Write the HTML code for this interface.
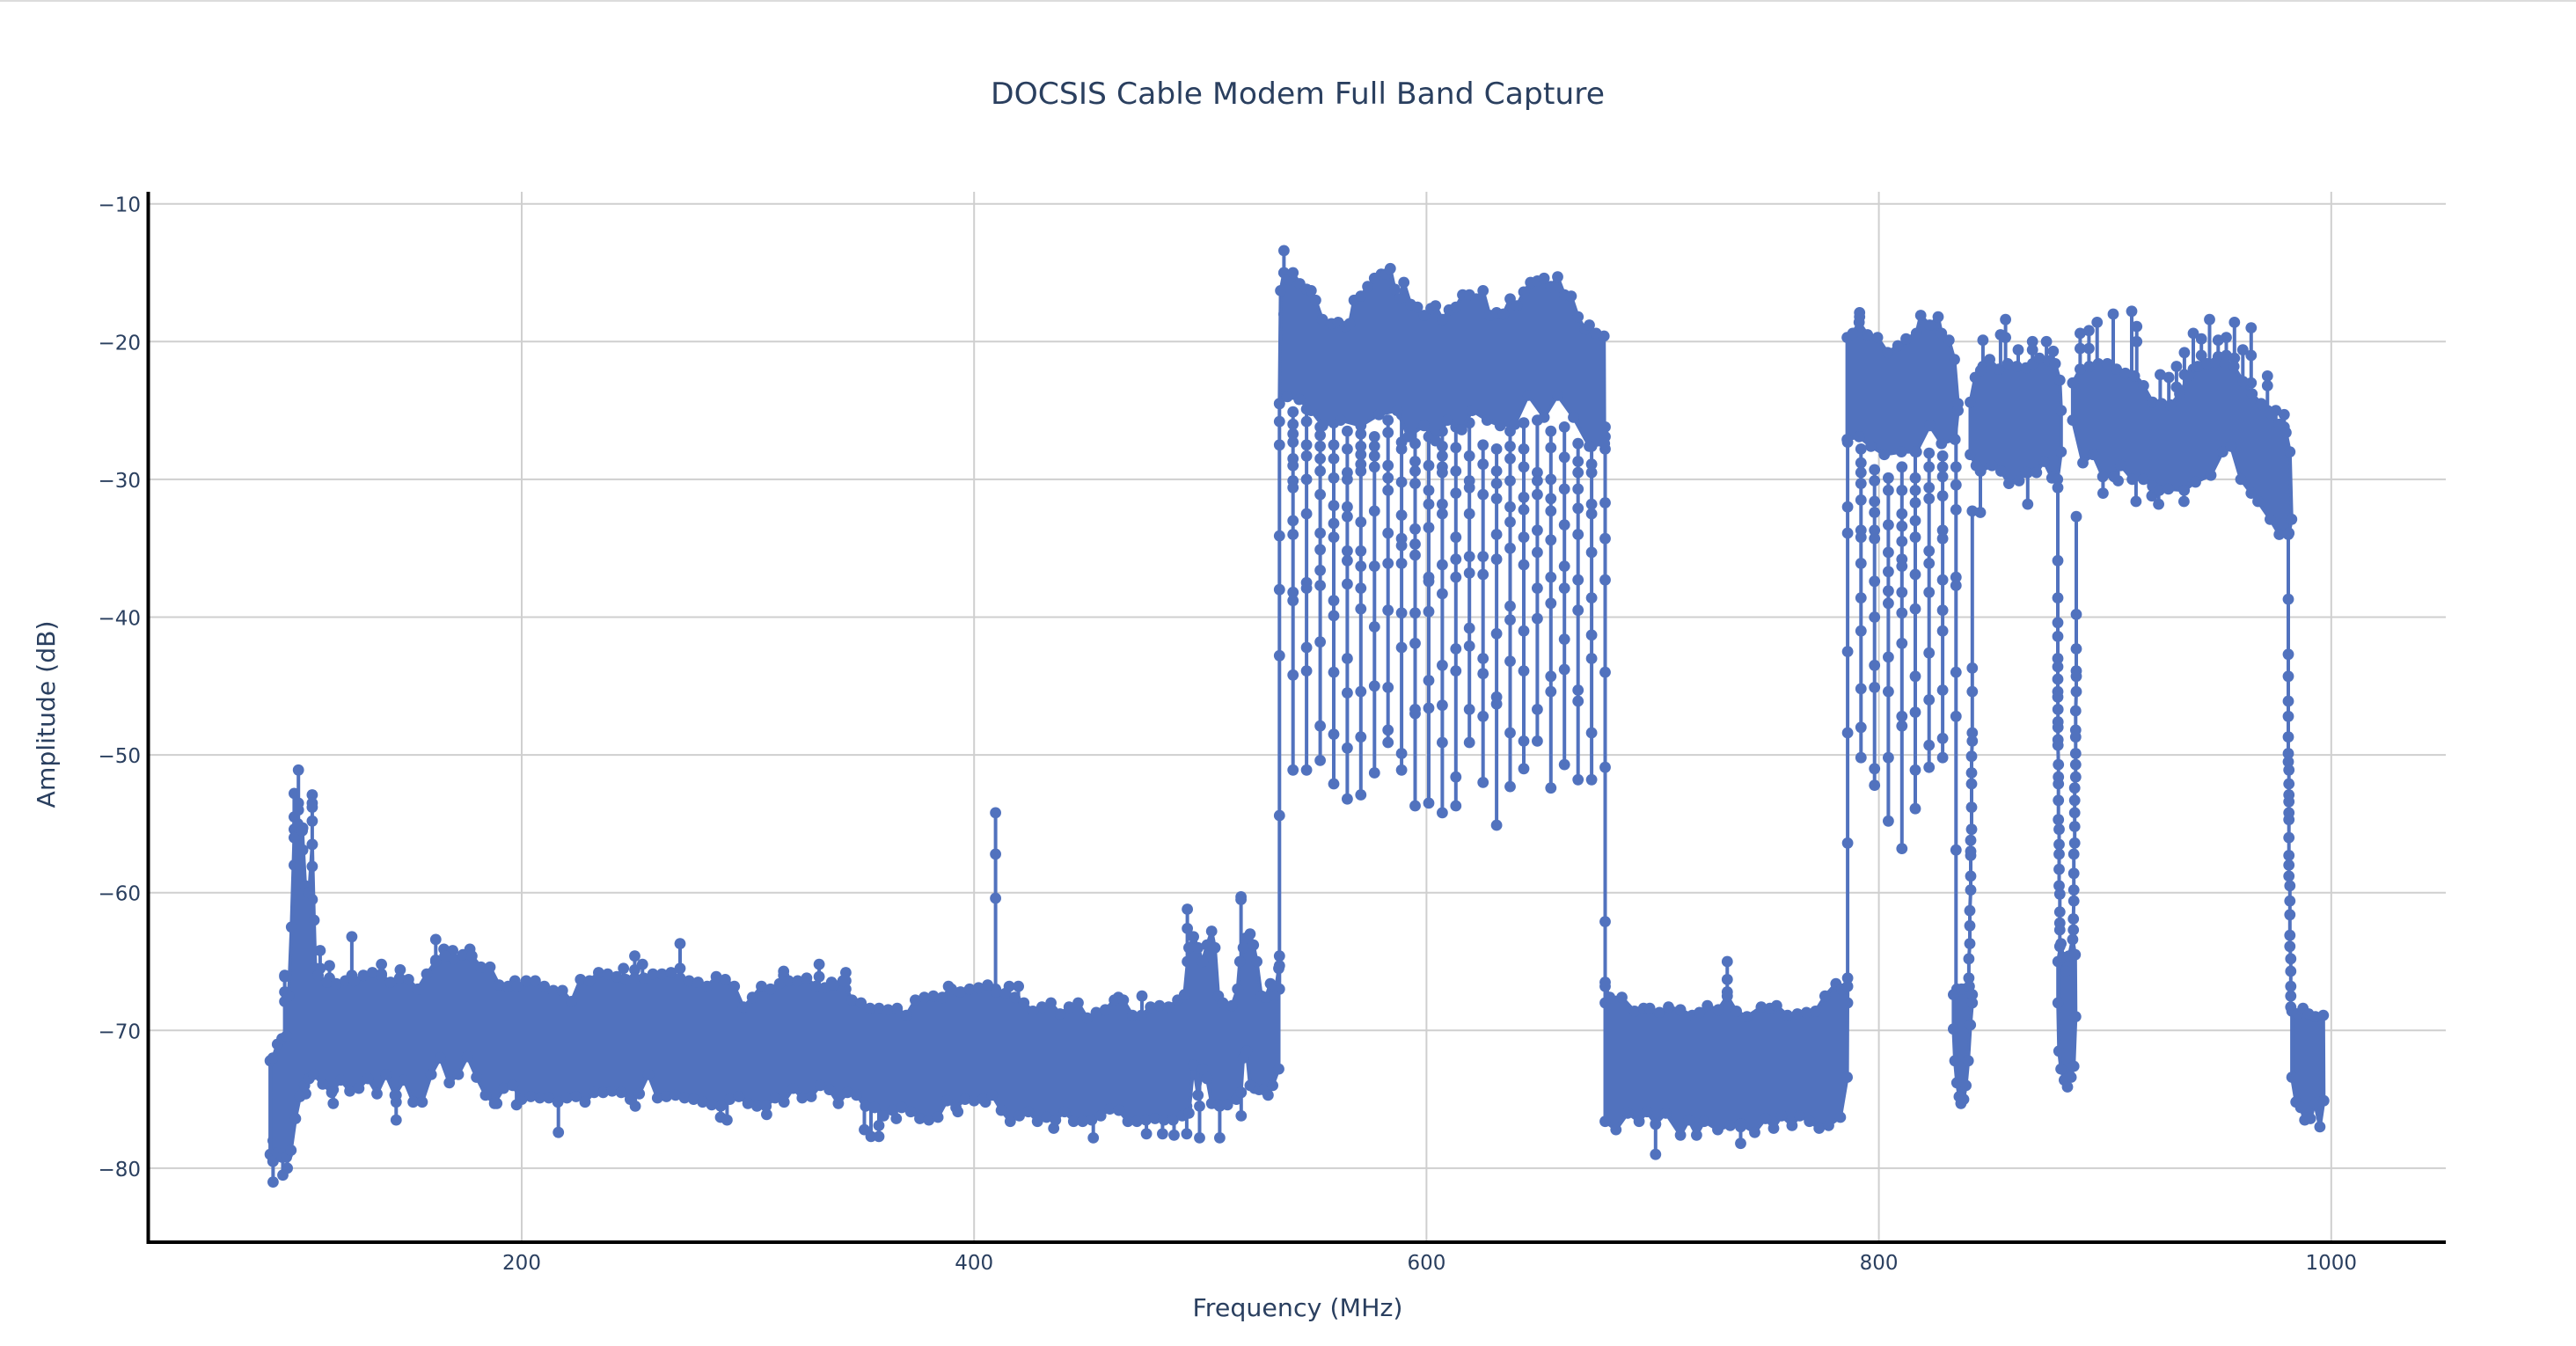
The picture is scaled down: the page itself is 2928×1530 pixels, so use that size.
<!DOCTYPE html>
<html lang="en">
<head>
<meta charset="utf-8">
<title>DOCSIS Cable Modem Full Band Capture</title>
<style>
html,body{margin:0;padding:0;background:#fff;width:2928px;height:1530px;overflow:hidden}
svg{display:block}
text{font-family:"DejaVu Sans","Liberation Sans",sans-serif;fill:#2a3f5f}
</style>
</head>
<body>
<svg id="chart" xmlns="http://www.w3.org/2000/svg" width="2928" height="1530" viewBox="0 0 2928 1530">
  <rect x="0" y="0" width="2928" height="1530" fill="#ffffff"/>
  <rect x="0" y="0" width="2928" height="2" fill="#dcdcdc"/>
  <g id="grid"></g>
  <g id="axes"></g>
  <g id="ticks"></g>
  <g id="marks"></g>
  <text x="1475" y="118" text-anchor="middle" font-size="34" textLength="698" lengthAdjust="spacingAndGlyphs">DOCSIS Cable Modem Full Band Capture</text>
  <text x="1475" y="1496" text-anchor="middle" font-size="28" textLength="239" lengthAdjust="spacingAndGlyphs">Frequency (MHz)</text>
  <text x="62" y="812" text-anchor="middle" font-size="28" transform="rotate(-90 62 812)" textLength="213" lengthAdjust="spacingAndGlyphs">Amplitude (dB)</text>
</svg>
<script>
// ---------- Axis values ----------
const xTickValues = [200, 400, 600, 800, 1000];
const xTickLabels = ["200", "400", "600", "800", "1000"];
const yTickValues = [-10, -20, -30, -40, -50, -60, -70, -80];
const yTickLabels = ["\u221210", "\u221220", "\u221230", "\u221240", "\u221250", "\u221260", "\u221270", "\u221280"];

// ---------- Low band, 88-535 MHz: upper and lower envelope ----------
const lowUpperFreq = [88.8,90,92,94,96,97,98.2,99.4,101,103,104.3,106,107.4,108.2,108.8,110,114,118,122,126,130,134,138,142,146,150,154,158,162,166,170,174,178,182,186,190,194,198,202,206,210,214,218,222,226,230,234,238,242,246,250,254,258,262,266,270,274,278,282,286,290,294,298,302,306,310,314,318,322,326,330,334,338,342,346,350,354,358,362,366,370,374,378,382,386,390,394,398,402,406,410,414,418,422,426,430,434,438,442,446,450,454,458,462,466,470,474,478,482,486,490,493,495,497,499,501,503,505,506.5,508,510,514,516.5,517.5,519,520,522,523.5,525,527,529,531,533,534.7];
const lowUpperAmp = [-72.2,-72,-71,-70.6,-70.4,-67.5,-62.5,-56,-55,-55.5,-59.5,-60,-56.5,-62,-65.5,-66,-66.5,-66.6,-66.4,-66.4,-66,-65.8,-66,-66.5,-66.2,-66.3,-67,-65.9,-65,-64.6,-64.8,-64.5,-64.6,-65.4,-65.4,-66.7,-66.8,-66.8,-66.4,-66.4,-66.8,-67.1,-67.1,-67.9,-66.3,-66.4,-65.8,-65.9,-66.1,-66.3,-66.2,-66.2,-65.9,-65.9,-65.8,-66.2,-66.4,-66.5,-66.8,-66.1,-66.3,-66.8,-68.3,-67.6,-66.8,-67,-66.6,-66.4,-66.4,-66.2,-66.8,-66.9,-66.7,-66.4,-67.8,-68,-68.4,-68.4,-68.5,-68.4,-68.9,-67.8,-67.6,-67.5,-67.6,-67,-67.2,-67,-66.9,-66.7,-67.2,-67.3,-67.6,-68,-68.6,-68.3,-68,-68.8,-68.3,-68,-69.1,-68.7,-68.5,-67.8,-67.8,-68.9,-68.9,-68.3,-68.2,-68.3,-67.8,-67.4,-64,-63.2,-64,-65,-63.8,-62.8,-64,-67.5,-68,-68.2,-67,-65,-64,-63.3,-63,-63.8,-65,-67.5,-67.6,-66.6,-67.5,-65.5];
const lowLowerFreq = [88.8,90,92,94,96,98,100,102,104,106,108,112,116,120,124,128,132,136,140,144,148,152,156,160,164,168,172,176,180,184,188,192,196,200,204,208,212,216,220,224,228,232,236,240,244,248,252,256,260,264,268,272,276,280,284,288,292,296,300,304,308,312,316,320,324,328,332,336,340,344,348,352,356,360,364,368,372,376,380,384,388,392,396,400,404,408,412,416,420,424,428,432,436,440,444,448,452,456,460,464,468,472,476,480,484,488,492,495,497,499,501,503,505,508,512,516,518,519,520.5,522,524,526,528,530,532,534.7];
const lowLowerAmp = [-79,-79.5,-78.9,-79.2,-79.2,-78.7,-76.4,-74.8,-74,-73.5,-73.2,-73.9,-74.5,-73.6,-74.4,-74.2,-73.5,-74.6,-73.2,-74.7,-73.6,-75.2,-75.2,-73.2,-72,-73.8,-73.2,-71.9,-73.4,-74.7,-75.3,-74.2,-74,-75,-74.8,-74.9,-74.9,-75.2,-74.9,-74.8,-75.2,-74.5,-74.5,-74.4,-74.5,-75,-74.6,-73.2,-74.9,-74.8,-74.7,-74.9,-75,-75.2,-75.4,-75.5,-75,-74.8,-75.3,-75.5,-75.5,-74.9,-75.2,-74.2,-74.9,-74.8,-74,-74.3,-75.3,-74.5,-74.7,-75.5,-75.6,-76.2,-75.8,-75.6,-75.9,-76.4,-76.5,-76.3,-75.1,-75.6,-75,-75.1,-75,-74.7,-75.8,-76.6,-76.2,-75.9,-76.6,-76.3,-76.5,-75.9,-76.6,-76.6,-76.5,-76.2,-75.7,-75.8,-76.6,-76.6,-76.5,-76.4,-76.5,-76.5,-76.2,-76,-72.5,-74.7,-72.8,-73.5,-75.3,-75.4,-75.4,-75,-74.5,-72,-71.5,-74,-74.2,-74.3,-74.3,-74.7,-74,-72.8];

// ---------- Carrier block A, 535-680 MHz ----------
const blockAUpperFreq = [535.5,537,539,541,544,547,549,551,554,558,561,564,566,568,571,574,577,580,582,584,586,588,590,593,596,599,602,604,607,610,613,616,619,622,625,628,631,634,637,640,643,646,649,652,655,658,661,664,667,670,672,675,678.5];
const blockAUpperAmp = [-16.3,-15,-15.5,-15,-15.8,-16.2,-16.3,-17,-18.4,-18.7,-18.6,-18.9,-18.7,-17,-16.7,-16,-15.4,-15.1,-15.1,-14.7,-16.2,-16.9,-15.7,-17.3,-17.5,-18.1,-17.6,-17.4,-18.4,-17.7,-17.5,-16.6,-16.6,-16.9,-16.3,-18.1,-17.9,-18,-16.9,-17.4,-16.4,-15.7,-15.6,-15.4,-16,-15.3,-16.6,-16.7,-18.2,-19.1,-18.8,-19.4,-19.6];
const blockALowerFreq = [535,538.5,543.7,549,554.1,562,571,579,587,592,598.9,604,609.3,615.6,620.2,626.8,632.6,639.1,645,652,658,665,672,678.7];
const blockALowerAmp = [-24.5,-24,-24.2,-25,-26.1,-25.7,-26.1,-25.3,-25,-26.9,-26.1,-27.2,-25.7,-26.4,-25,-25.7,-26.1,-26,-23.9,-25.5,-23.9,-25.5,-27.6,-27.4];

// ---------- Guard band, 680-786 MHz ----------
const quietUpperFreq = [679,681,686.4,692,696,698.7,703,707,712.3,717.5,720.7,724.2,729,733,737,741.7,748,751.8,754.8,759.6,764,768,772,776.2,781,783.6,786.2];
const quietUpperAmp = [-66.8,-67.6,-67.6,-68.6,-68.4,-68.4,-68.7,-68.3,-68.5,-68.9,-68.7,-68.2,-68.5,-67.5,-68.6,-69,-68.3,-68.4,-68.2,-68.9,-68.8,-68.7,-68.6,-67.5,-66.6,-67,-66.8];
const quietLowerFreq = [679,683.8,689,694,697.5,701.3,705.8,712.3,716,719.4,722.7,728.8,734.3,738.9,745.1,749.9,753.5,757,761.6,765,769.3,773.6,777.8,783,786];
const quietLowerAmp = [-76.6,-77.2,-76,-76.6,-75.9,-76.8,-76,-77.6,-76.5,-77.6,-76.6,-77.2,-76.9,-76.8,-77.4,-76.4,-77.1,-76.2,-76.9,-76.2,-76.6,-77.1,-76.9,-76.3,-73.4];

// ---------- Carrier block B, 786-835 MHz ----------
const blockBUpperFreq = [786,788.5,791.3,795,799.4,803.9,808.4,812,816.6,818.5,822.5,826.2,827.7,831,833.4,835];
const blockBUpperAmp = [-19.7,-19.4,-18.6,-19.5,-19.7,-20.8,-20.3,-19.8,-19.4,-18.1,-18.8,-18.2,-19.4,-19.9,-21.3,-24.5];
const blockBLowerFreq = [786,791.3,796.5,802.4,810,816.6,822.5,827.7,833.7,835];
const blockBLowerAmp = [-27.1,-26.9,-27.6,-28.2,-28,-28,-26.1,-27.4,-27.1,-25];

// ---------- First notch floor, 833-842 MHz ----------
const notchAUpperFreq = [833,834.5,836.5,838,840,841.3];
const notchAUpperAmp = [-67.4,-67,-67,-67,-66.8,-67.4];
const notchALowerFreq = [833,833.6,834.5,835.5,836.3,837.5,838.5,839.5,840.5,841.3];
const notchALowerAmp = [-69.9,-72.2,-73.8,-74.8,-75.3,-75,-74,-72.2,-69.6,-68];

// ---------- Carrier block C, 840-880 MHz ----------
const blockCUpperFreq = [840.4,842.6,845,849,853,857,861,865,868,871,875,878,880,880.6];
const blockCUpperAmp = [-24.4,-22.6,-22.1,-21.3,-22,-21.6,-21.8,-21.9,-21.6,-21.2,-21.4,-21.6,-22.8,-25];
const blockCLowerFreq = [840.4,843,845,850,854,857.5,862,865,869.7,873,876.5,879,880.6];
const blockCLowerAmp = [-28.2,-29,-29.4,-29,-29.4,-30.3,-30.1,-29.5,-29.5,-28.7,-29.9,-30,-28];

// ---------- Second notch floor, 879-887 MHz ----------
const notchBUpperFreq = [879.2,880.5,881.5,882.7,884,885.7,886.8];
const notchBUpperAmp = [-65,-63.7,-64.7,-65.7,-64.6,-63.4,-64.5];
const notchBLowerFreq = [879.2,879.6,880.5,882,883.4,885,886.2,887];
const notchBLowerAmp = [-68,-71.5,-72.8,-73.6,-74.1,-73.4,-72.6,-69];

// ---------- Carrier block D, 886-982 MHz ----------
const blockDUpperFreq = [885.7,889,893,897,901,905,909,913,917,921,925,929,933,937,941,945,949,953,957,961,965,969,973,977,980,981.7];
const blockDUpperAmp = [-23,-22,-21.8,-21.6,-21.6,-22,-22.3,-22.5,-23.2,-24.4,-24.5,-24.6,-23.8,-22.5,-21.8,-21.6,-21.5,-21.6,-21.8,-22.9,-23.8,-24.5,-25.2,-26,-26.6,-28];
const blockDLowerFreq = [885.7,890.2,894.7,899,904,907,912,917,921,924,928,935,940,946.8,952,955.7,960,964.6,967.6,973,977,981.3,982.5];
const blockDLowerAmp = [-25.7,-28.8,-28.2,-29.8,-29.8,-29,-30,-30,-30.5,-30.8,-30.7,-30.8,-30.2,-29.7,-28,-27.6,-30,-31,-31.6,-32.9,-34,-33.9,-32.9];

// ---------- Top end, 982-997 MHz ----------
const endUpperFreq = [982.6,985,987.5,990,993,996.5];
const endUpperAmp = [-68.6,-68.8,-68.4,-68.8,-69,-68.9];
const endLowerFreq = [982.6,984.4,986.5,988.3,990.8,992.8,995,996.7];
const endLowerAmp = [-73.4,-75.2,-75.6,-76.5,-76.4,-75.3,-77,-75.1];

// ---------- Deep channel-gap teeth inside carrier blocks A and B ----------
const toothFreqs = [535,541,547,553,559,565,571,577,583,589,595,601,607,613,619,625,631,637,643,649,655,661,667,673,679,786.2,792.1,798.1,804.2,810.2,816.1,822.2,828.2,834.1];
const toothAmps = [
 [-24.5,-25.8,-27.5,-34.1,-38,-42.8,-54.4,-64.6,-65.3,-67],
 [-25.1,-26,-26.7,-27.3,-28.5,-29,-30.1,-30.6,-33,-34,-38.2,-38.8,-44.2,-51.1],
 [-24.9,-25.8,-27.5,-28.3,-30,-32.5,-37.5,-37.9,-42.2,-43.9,-51.1],
 [-26.2,-26.8,-27.6,-28.5,-29.4,-31.1,-33.9,-35.1,-36.6,-37.7,-41.8,-47.9,-50.4],
 [-25.9,-27.5,-28.5,-29.9,-31.9,-33.2,-34.2,-38.8,-39.9,-44,-48.5,-52.1],
 [-26.5,-27.8,-29.5,-30,-32,-32.7,-35.2,-35.9,-37.6,-43,-45.5,-49.5,-53.2],
 [-25.3,-26.7,-27.6,-28.2,-28.9,-29.4,-33.1,-35.2,-36.3,-37.9,-39.4,-45.4,-48.7,-52.9],
 [-26.9,-27.6,-28.3,-29.1,-32.3,-36.3,-40.7,-45,-51.3],
 [-25.7,-26.6,-29,-29.9,-30.8,-33.9,-36.1,-39.5,-45.1,-48.2,-49.1],
 [-25.3,-27.3,-27.8,-30.2,-32.6,-34.3,-34.8,-36.1,-39.7,-42.2,-49.9,-51.1],
 [-26.2,-27.4,-28.7,-29.4,-30.3,-33.6,-34.7,-35.5,-39.7,-41.9,-46.7,-47,-53.7],
 [-26.9,-29,-30.8,-31.8,-33.5,-37.1,-37.4,-39.6,-44.6,-46.6,-53.5],
 [-26.5,-27.6,-28.3,-29.1,-29.5,-31.8,-32.5,-36.2,-38.3,-43.5,-46.4,-49.1,-54.2],
 [-26.2,-27.7,-29.4,-31,-34.2,-35.8,-37.1,-42.3,-43.9,-51.6,-53.7],
 [-25.9,-28.3,-30.1,-30.6,-32.5,-35.6,-36.8,-40.8,-42.1,-46.7,-49.1],
 [-27.5,-28.9,-31.1,-35.6,-36.9,-43,-44.1,-47.2,-52],
 [-27.8,-29.4,-30.3,-31.4,-34,-35.8,-41.2,-45.8,-46.3,-55.1],
 [-26.5,-27.6,-28.5,-30.1,-32,-33.1,-35,-39.2,-40.2,-43.2,-48.4,-52.3],
 [-25.9,-27.8,-29.1,-31.3,-32.2,-34.2,-36.2,-41,-43.9,-49,-51],
 [-25.7,-29.5,-30.1,-31.1,-33.7,-35.3,-37.9,-40.1,-46.7,-49],
 [-26.5,-27.7,-30,-31.4,-32.3,-34.4,-37.1,-39,-44.3,-45.4,-52.4],
 [-26.2,-28.4,-30.7,-33.3,-36.3,-37.9,-41.6,-43.8,-50.7],
 [-27.4,-28.7,-29.5,-30.7,-32.1,-34,-37.3,-39.5,-45.3,-46.1,-51.8],
 [-27.6,-28.9,-29.5,-31.8,-32.5,-35.3,-38.6,-41.3,-43,-48.4,-51.8],
 [-26.2,-26.9,-27.8,-31.7,-34.3,-37.3,-44,-50.9,-62.1,-66.5,-68],
 [-27.3,-32,-33.9,-42.5,-48.4,-56.4,-66.2,-68],
 [-27.8,-28.8,-29.5,-30.3,-31.5,-33.7,-34.2,-36.1,-38.6,-41,-45.2,-48,-50.2],
 [-29.3,-30.1,-31.6,-32.4,-33.7,-34.3,-37.4,-40,-43.5,-45.1,-51,-52.2],
 [-29.9,-30.8,-33.3,-35.3,-36.7,-38.1,-39,-42.9,-45.4,-50.2,-54.8],
 [-29.1,-30.8,-32.5,-33.4,-34.5,-35.8,-36.3,-38.2,-39.7,-41.9,-47.2,-47.9,-56.8],
 [-28,-29.9,-30.8,-31.7,-33,-34.2,-36.9,-39.4,-44.3,-46.9,-51.1,-53.9],
 [-28.1,-29.1,-30.6,-31.4,-35.2,-36.1,-38.2,-42.6,-46,-49.3,-50.9],
 [-28.3,-29.1,-29.8,-31.2,-33.7,-34.3,-37.3,-39.5,-41,-45.3,-48.8,-50.2],
 [-25,-29.1,-30.4,-32.2,-37.1,-37.7,-44,-47.2,-56.9,-67.5]
];

// ---------- Isolated outliers above and below the noise envelope ----------
const spikeFreqs = [90.1,94.4,96.4,95.2,99.4,101.3,103.2,107.4,104.5,110.9,115,116.7,124.9,138,144.5,146.3,162,165.6,169.5,177.1,189,197,197.7,216.2,245,250,250.2,253.4,270,287.9,290.8,308.3,315.8,331.5,337,343.3,351.5,354.4,357.9,365.6,388.7,392.8,405,409.5,415.5,419.6,435.2,452.7,463.8,474.2,476.2,483.3,488.4,494,494.3,499.7,508.6,518,518.1,537,701.3,733,738.9,791.5,844.9,846,853.8,856,861.6,865.8,867.9,874.1,877.1,889,892.9,896.5,899.1,903.6,905.8,911.8,913.7,914,920.7,923.7,924.4,928.2,931.6,934.9,935.1,939,942.6,946.2,950,953.6,957.2,960.9,964.6,971.8,975.5,979.2];
const spikeAmps = [
 [-81,-79.5,-78],[-80.5,-79],[-80,-79],[-66,-66.1,-67.2,-67.9,-71],[-52.8,-54.5,-55.4,-58],[-51.1,-53.5,-54,-56],[-55.3,-56.9,-59.4],[-52.9,-53.5,-53.8,-54.8,-56.5,-58.1,-60.5],[-74.6,-73],
 [-64.2,-65.5,-67],[-65.3,-66.2,-67],[-75.3,-74.3,-73],[-63.2,-66,-67.5],[-65.2,-65.9,-67],[-76.5,-75.2,-74.7,-73],[-65.6,-66.4],[-63.4,-64.9,-66],[-64.1,-65],[-64.2,-65],[-64.1,-65],
 [-75.3,-74],[-66.4,-67.5],[-75.4,-74],[-77.4,-75,-73.5],[-65.5,-66.5],[-64.6,-65.6,-67],[-75.5,-74],[-65.2,-66.3],[-63.7,-65.5,-67],[-76.3,-75],[-76.5,-75],
 [-76.1,-74.5],[-65.7,-66,-67],[-65.2,-66.1,-67],[-66.5,-67.2],[-65.8,-66.4,-67],[-77.2,-75],[-77.7,-75],[-77.7,-76.9,-75],[-76.4,-75],[-66.8,-67.5],[-75.9,-75],[-75.2,-74.5],
 [-54.2,-57.2,-60.4,-67],[-66.8,-68],[-66.8,-68],[-77.1,-75.5],[-77.8,-76],[-67.6,-68.5],[-67.5,-69],[-77.5,-76],[-77.5,-76],[-77.6,-76],[-77.5,-75.5],
 [-61.2,-62.6,-65],[-77.8,-75.5,-73],[-77.8,-75.5],[-60.3,-60.5,-65],[-76.2,-74.5],[-13.4,-15,-18],[-79,-76.8,-75],[-65,-66.3,-67.2,-69],[-78.2,-77,-75],[-17.9,-18.2,-20],
 [-32.4,-29.4,-27],[-19.9,-21.8,-23.3],[-19.5,-22.2],[-18.4,-19.7,-22.5],[-20.6,-22.5],[-31.8,-29.5],[-20,-20.6,-22.5],[-20,-22.5],[-20.7,-22.5],
 [-19.4,-20.5,-23],[-19.2,-20.5,-23],[-18.6,-23],[-31,-29],[-18,-23],[-30.1,-28.5],[-17.8,-23],[-31.6,-29.5],[-18.9,-20,-23],[-31.2,-29.5],[-31.8,-30],[-22.4,-25],[-22.6,-25],[-21.8,-23.3,-25],[-31.6,-29.5],
 [-20.8,-22.4,-24],[-19.4,-22],[-19.8,-21,-23],[-18.4,-22],[-19.9,-21.1,-23],[-19.7,-21,-23],[-18.6,-21.2,-23],[-20.6,-23],[-19,-21,-23],[-22.5,-23.2,-25],[-25,-26.5],[-25.3,-26.2,-27.5]
];

// ---------- Steep walls at the edges of the notches ----------
const wallAFreq = [841.3,841.3,841.3,841.3,841.3,841,841,841,841,841,840.6,840.6,840.6,840.6,840.6,840.2,840.2,840.2,839.8,839.8];
const wallAAmp = [-32.3,-43.7,-45.4,-48.4,-49,-50.1,-51.3,-52.1,-53.8,-55.4,-56.2,-57,-57.3,-58.8,-59.8,-61.3,-62.4,-63.7,-64.8,-66.2];
const wallBFreq = [879.1,879.1,879.1,879.1,879.1,879.1,879.1,879.1,879.1,879.1,879.2,879.2,879.2,879.2,879.2,879.4,879.4,879.4,879.4,879.4,879.7,879.7,879.7,879.7,879.7,880,880,880,880,880];
const wallBAmp = [-30.6,-35.9,-38.6,-40.4,-41.4,-43,-43.6,-44.5,-45.4,-45.8,-46.7,-47.6,-48,-48.9,-49.3,-50.7,-51.6,-52.1,-53.3,-54.7,-55.4,-56.5,-57.2,-58.3,-59.5,-60.1,-61.4,-62.2,-62.7,-63.9];
const wallCFreq = [887.3,887.3,887.3,887.3,887.3,887.3,887,887,887,887,887,887,886.6,886.6,886.6,886.6,886.6,886.2,886.2,886.2,886.2,886,886];
const wallCAmp = [-32.7,-39.8,-42.3,-43.9,-44.3,-45.4,-46.8,-48.2,-48.7,-49.9,-50.7,-51.6,-52.4,-53.3,-54.2,-55.2,-56.4,-57.2,-58.6,-59.8,-60.6,-61.9,-62.7];
const wallDFreq = [981,981,981,981,981,981,981,981,981,981,981.3,981.3,981.3,981.3,981.3,981.3,981.3,981.3,981.3,981.3,981.7,981.7,981.7,981.7,981.7,982.1,982.1,982.1,982.1,982.1];
const wallDAmp = [-32.9,-34,-38.7,-42.7,-44.3,-46.1,-47.2,-48.7,-49.9,-50.5,-51.1,-52.1,-52.9,-53.4,-54.2,-54.7,-56,-57.3,-58,-58.8,-59.5,-60.6,-61.6,-63.1,-63.9,-64.8,-65.7,-66.8,-67.5,-68.3];

// ---------- Scales ----------
const SVG_NS = 'http://www.w3.org/2000/svg';
const COLOR = '#5172be';
const PLOT = {left: 168.5, right: 2780, top: 218, bottom: 1412};
function xScale(f) { return 593 + (f - 200) * 2.571; }
function yScale(a) { return 231.7 + (-10 - a) * 15.66; }

const gridLayer = document.getElementById('grid');
const axisLayer = document.getElementById('axes');
const tickLayer = document.getElementById('ticks');
const markLayer = document.getElementById('marks');

function svgEl(tag, parent) {
  const el = document.createElementNS(SVG_NS, tag);
  parent.appendChild(el);
  return el;
}
function lineEl(parent, x1, y1, x2, y2, color, width) {
  const el = svgEl('line', parent);
  el.setAttribute('x1', x1); el.setAttribute('y1', y1);
  el.setAttribute('x2', x2); el.setAttribute('y2', y2);
  el.setAttribute('stroke', color); el.setAttribute('stroke-width', width);
  return el;
}

// ---------- Grid and ticks ----------
xTickValues.forEach(function (v, i) {
  const g = lineEl(gridLayer, xScale(v), PLOT.top, xScale(v), PLOT.bottom, '#cfcfcf', 2);
  
  
  const t = svgEl('text', tickLayer);
  
  
  t.setAttribute('x', xScale(v));
  t.setAttribute('y', 1443);
  t.setAttribute('text-anchor', 'middle');
  t.setAttribute('font-size', '23');
  t.textContent = xTickLabels[i];
});
yTickValues.forEach(function (v, i) {
  const g = lineEl(gridLayer, PLOT.left, yScale(v), PLOT.right, yScale(v), '#cfcfcf', 2);
  
  
  const t = svgEl('text', tickLayer);
  
  
  t.setAttribute('x', 160);
  t.setAttribute('y', yScale(v) + 9);
  t.setAttribute('text-anchor', 'end');
  t.setAttribute('font-size', '23');
  t.textContent = yTickLabels[i];
});

// ---------- Axis lines ----------
const xAxisLine = lineEl(axisLayer, 166.5, PLOT.bottom, PLOT.right, PLOT.bottom, '#000000', 4);


const yAxisLine = lineEl(axisLayer, PLOT.left, PLOT.top, PLOT.left, 1414, '#000000', 4);



// ---------- Marks ----------
function drawPoint(f, a) {
  const c = svgEl('circle', markLayer);
  
  
  c.setAttribute('cx', xScale(f).toFixed(1));
  c.setAttribute('cy', yScale(a).toFixed(1));
  c.setAttribute('r', '6.4');
  c.setAttribute('fill', COLOR);
}
function drawBand(upF, upA, loF, loA) {
  const pts = [];
  upF.forEach(function (f, i) { pts.push(xScale(f).toFixed(1) + ',' + yScale(upA[i]).toFixed(1)); });
  for (let i = loF.length - 1; i >= 0; i--) {
    pts.push(xScale(loF[i]).toFixed(1) + ',' + yScale(loA[i]).toFixed(1));
  }
  const p = svgEl('polygon', markLayer);
  
  
  p.setAttribute('points', pts.join(' '));
  p.setAttribute('fill', COLOR);
  p.setAttribute('stroke', COLOR);
  p.setAttribute('stroke-width', '4');
  p.setAttribute('stroke-linejoin', 'round');
  upF.forEach(function (f, i) { drawPoint(f, upA[i]); });
  loF.forEach(function (f, i) { drawPoint(f, loA[i]); });
}
function drawTrace(freqs, amps) {
  const pts = freqs.map(function (f, i) { return xScale(f).toFixed(1) + ',' + yScale(amps[i]).toFixed(1); });
  const p = svgEl('polyline', markLayer);
  
  
  p.setAttribute('points', pts.join(' '));
  p.setAttribute('fill', 'none');
  p.setAttribute('stroke', COLOR);
  p.setAttribute('stroke-width', '4');
  freqs.forEach(function (f, i) { drawPoint(f, amps[i]); });
}
function drawColumn(f, amps) {
  drawTrace(amps.map(function () { return f; }), amps);
}

toothFreqs.forEach(function (f, i) { drawColumn(f, toothAmps[i]); });
spikeFreqs.forEach(function (f, i) { drawColumn(f, spikeAmps[i]); });
drawTrace(wallAFreq, wallAAmp);
drawTrace(wallBFreq, wallBAmp);
drawTrace(wallCFreq, wallCAmp);
drawTrace(wallDFreq, wallDAmp);
drawBand(lowUpperFreq, lowUpperAmp, lowLowerFreq, lowLowerAmp);
drawBand(blockAUpperFreq, blockAUpperAmp, blockALowerFreq, blockALowerAmp);
drawBand(quietUpperFreq, quietUpperAmp, quietLowerFreq, quietLowerAmp);
drawBand(blockBUpperFreq, blockBUpperAmp, blockBLowerFreq, blockBLowerAmp);
drawBand(notchAUpperFreq, notchAUpperAmp, notchALowerFreq, notchALowerAmp);
drawBand(blockCUpperFreq, blockCUpperAmp, blockCLowerFreq, blockCLowerAmp);
drawBand(notchBUpperFreq, notchBUpperAmp, notchBLowerFreq, notchBLowerAmp);
drawBand(blockDUpperFreq, blockDUpperAmp, blockDLowerFreq, blockDLowerAmp);
drawBand(endUpperFreq, endUpperAmp, endLowerFreq, endLowerAmp);
</script>
</body>
</html>
